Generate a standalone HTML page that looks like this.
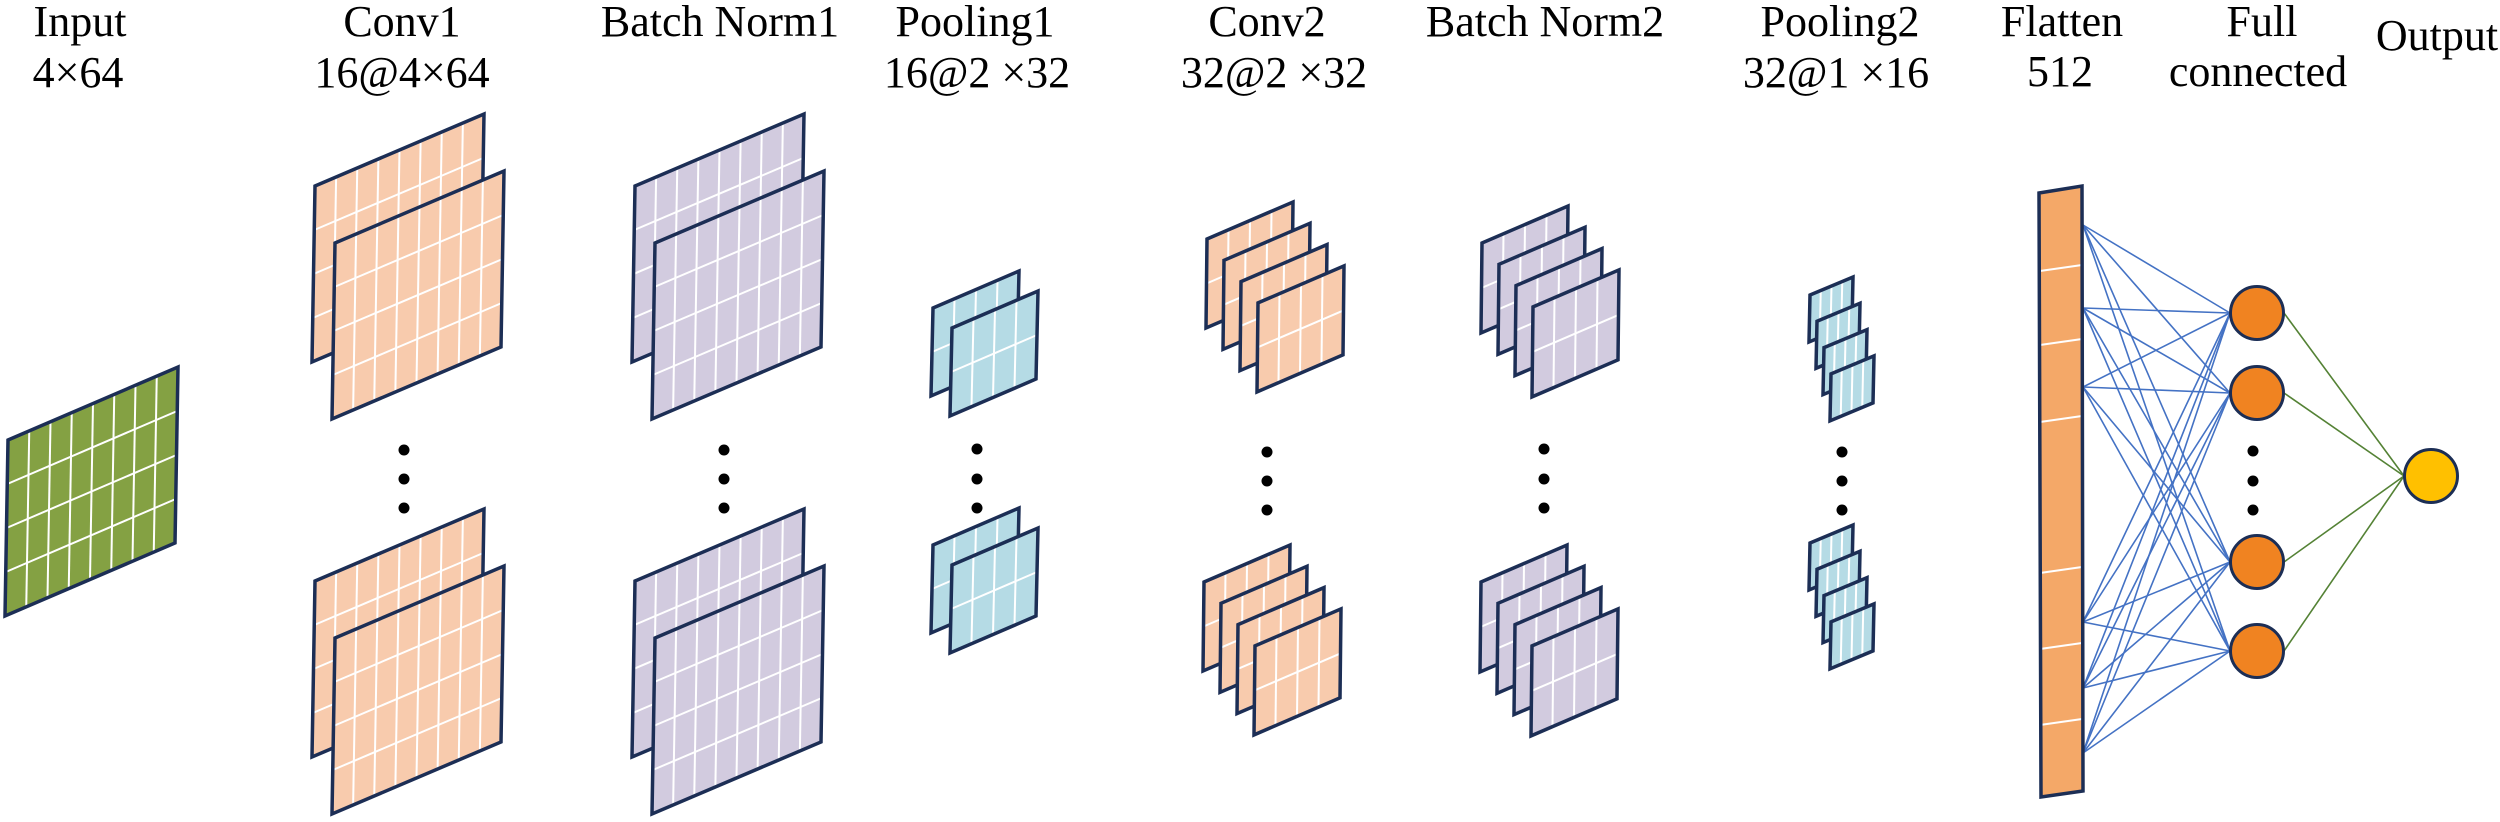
<!DOCTYPE html>
<html><head><meta charset="utf-8"><style>
html,body{margin:0;padding:0;background:#fff;}
svg{display:block;}
svg text{font-family:"Liberation Serif","DejaVu Serif",serif;font-size:44px;fill:#000;}
</style></head><body>
<svg id="s" width="2500" height="822" viewBox="0 0 2500 822" xmlns="http://www.w3.org/2000/svg">
<g text-anchor="middle" font-family="Liberation Serif, DejaVu Serif, serif" font-size="44">
<text x="80" y="36">Input</text><text x="78" y="87">4×64</text>
<text x="402" y="36">Conv1</text><text x="402" y="87">16@4×64</text>
<text x="720" y="36">Batch Norm1</text>
<text x="975" y="36">Pooling1</text><text x="977" y="87">16@2 ×32</text>
<text x="1267" y="36">Conv2</text><text x="1274" y="87">32@2 ×32</text>
<text x="1545" y="36">Batch Norm2</text>
<text x="1840" y="36">Pooling2</text><text x="1836" y="87">32@1 ×16</text>
<text x="2062" y="36">Flatten</text><text x="2060" y="86">512</text>
<text x="2262" y="36">Full</text><text x="2258" y="86">connected</text>
<text x="2437" y="50">Output</text>
</g>
<g id="g"></g>
</svg>
<script>
var g=document.getElementById('g'),out='';
var ST='#1c2e55';
function plane(x,y,w,r,h,lean,cols,rows,fill){
  var TL=[x,y],TR=[x+w,y-r],BR=[x+w-lean,y-r+h],BL=[x-lean,y+h];
  function L(a,b,t){return [a[0]+(b[0]-a[0])*t,a[1]+(b[1]-a[1])*t];}
  var s='<polygon points="'+TL+' '+TR+' '+BR+' '+BL+'" fill="'+fill+'" stroke="none"/>';
  for(var i=1;i<cols;i++){var p=L(TL,TR,i/cols),q=L(BL,BR,i/cols);s+='<line x1="'+p[0]+'" y1="'+p[1]+'" x2="'+q[0]+'" y2="'+q[1]+'" stroke="#fff" stroke-width="2"/>';}
  for(var j=1;j<rows;j++){var p=L(TL,BL,j/rows),q=L(TR,BR,j/rows);s+='<line x1="'+p[0]+'" y1="'+p[1]+'" x2="'+q[0]+'" y2="'+q[1]+'" stroke="#fff" stroke-width="2"/>';}
  s+='<polygon points="'+TL+' '+TR+' '+BR+' '+BL+'" fill="none" stroke="'+ST+'" stroke-width="3.5" stroke-linejoin="miter"/>';
  return s;
}
function dots(x,ys){var s='';ys.forEach(function(y){s+='<circle cx="'+x+'" cy="'+y+'" r="5.5" fill="#000"/>';});return s;}
var OR='#f8cbad',LV='#d2cbdf',BL='#b5dbe5',GR='#84a143';
out+=plane(8,440,170,73,176,3,8,4,GR);
[0,320].forEach(function(dx){
  var f=dx?LV:OR;
  [0,395].forEach(function(dy){
    out+=plane(315+dx,186+dy,169,72,176,3,8,4,f);
    out+=plane(335+dx,243+dy,169,72,176,3,8,4,f);
  });
});
out+=dots(404,[450,479,508])+dots(724,[450,479,508]);
[0,237].forEach(function(dy){
  out+=plane(933,308+dy,86,37,88,2,4,2,BL);
  out+=plane(952,328+dy,86,37,88,2,4,2,BL);
});
out+=dots(977,[449,479,508]);
[[0,0],[-3,343]].forEach(function(o){
  for(var k=0;k<4;k++) out+=plane(1207+k*17+o[0],239+k*21.3+o[1],86,37,89,1,4,2,OR);
});
out+=dots(1267,[452,481,510]);
[[0,0],[-1,339]].forEach(function(o){
  for(var k=0;k<4;k++) out+=plane(1482+k*17+o[0],243+k*21.3+o[1],86,37,90,1,4,2,LV);
});
out+=dots(1544,[449,479,508]);
[0,248].forEach(function(dy){
  for(var k=0;k<4;k++) out+=plane(1810+k*7,295+k*26.3+dy,43,18,47,1,4,1,BL);
});
out+=dots(1842,[452,481,510]);
var src=[225,308,387,622,688,753],neu=[313,393,562,651];
src.forEach(function(sy){neu.forEach(function(ny){
  out+='<line x1="2083" y1="'+sy+'" x2="2230" y2="'+ny+'" stroke="#4472c4" stroke-width="1.6"/>';
});});
neu.forEach(function(ny){out+='<line x1="2284" y1="'+ny+'" x2="2404" y2="476" stroke="#548235" stroke-width="1.6"/>';});
out+='<polygon points="2039,193 2082,186 2083,791 2041,797" fill="#f4a868" stroke="none"/>';
[[271,265],[345,339],[422,416],[573,567],[649,643],[725,719]].forEach(function(l){
  out+='<line x1="2040" y1="'+l[0]+'" x2="2082" y2="'+l[1]+'" stroke="#fff" stroke-width="2"/>';
});
out+='<polygon points="2039,193 2082,186 2083,791 2041,797" fill="none" stroke="'+ST+'" stroke-width="3.5"/>';
neu.forEach(function(ny){out+='<circle cx="2257" cy="'+ny+'" r="26.5" fill="#f08321" stroke="'+ST+'" stroke-width="3"/>';});
out+=dots(2253,[451,481,510]);
out+='<circle cx="2431" cy="476" r="26.5" fill="#ffc000" stroke="'+ST+'" stroke-width="3"/>';
g.innerHTML=out;
</script>
</body></html>
